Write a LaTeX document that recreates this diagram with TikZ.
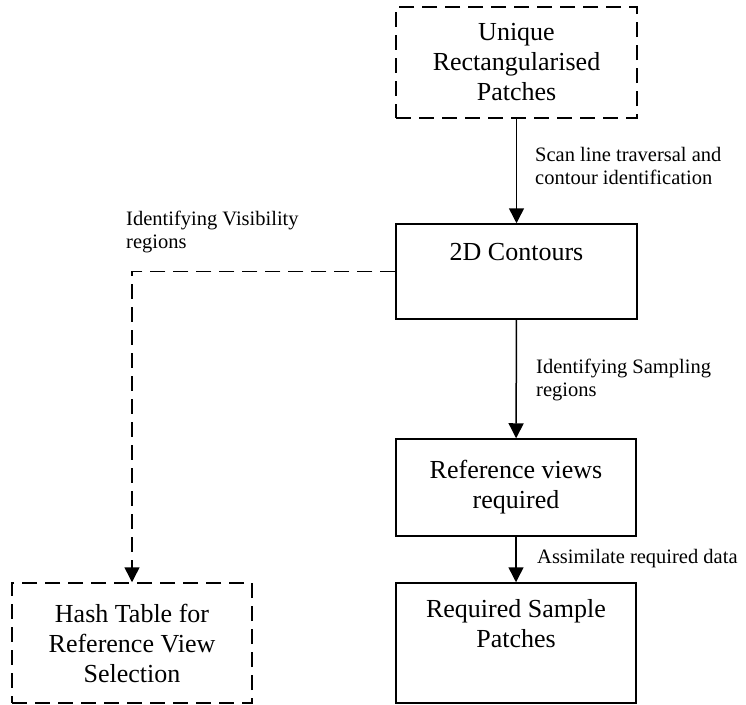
\documentclass[tikz,border=0pt]{standalone}
\usepackage{fontspec}
\setmainfont{Liberation Serif}
\usetikzlibrary{arrows.meta}
\begin{document}
\begin{tikzpicture}[x=1pt,y=-1pt,
  box/.style={draw, line width=1.5pt, inner sep=0pt, align=center,
    font=\fontsize{26}{30}\selectfont},
  dbox/.style={box, dash pattern=on 15pt off 8pt},
  flow/.style={line width=1.5pt, -{Triangle[length=15pt,width=15pt]}},
  dflow/.style={flow, dash pattern=on 15pt off 8pt},
  lbl/.style={anchor=base west, inner sep=0pt,
    font=\fontsize{20.5}{23}\selectfont}]
\useasboundingbox (0,0) rectangle (746,704);

% process boxes
\node[dbox, minimum width=241pt, minimum height=111pt] (urp) at (516.5,62.5)
  {Unique\\Rectangularised\\Patches};
\node[box, minimum width=241pt, minimum height=95pt] (c2d) at (516.5,271.5)
  {2D Contours\\\strut};
\node[box, minimum width=240pt, minimum height=97pt] (refv) at (516,487.5)
  {Reference views\\required};
\node[box, minimum width=240pt, minimum height=120pt] (rsp) at (516,643)
  {Required Sample\\Patches\\\strut};
\node[dbox, minimum width=240pt, minimum height=120pt] (hash) at (132,643)
  {Hash Table for\\Reference View\\Selection};

% connectors
\draw[flow] (urp) -- (c2d);
\draw[flow] (c2d) -- (refv);
\draw[flow] (refv) -- (rsp);
\draw[dflow] (c2d.west) -| (hash.north);

% connector labels
\node[lbl] (l1) at (535,161)
  {\begin{tabular}[t]{@{}l@{}}Scan line traversal and\\contour identification\end{tabular}};
\node[lbl] (l2) at (126,225)
  {\begin{tabular}[t]{@{}l@{}}Identifying Visibility\\regions\end{tabular}};
\node[lbl] (l3) at (536,373)
  {\begin{tabular}[t]{@{}l@{}}Identifying Sampling\\regions\end{tabular}};
\node[lbl] (l4) at (537,563) {Assimilate required data};
\end{tikzpicture}
\end{document}
